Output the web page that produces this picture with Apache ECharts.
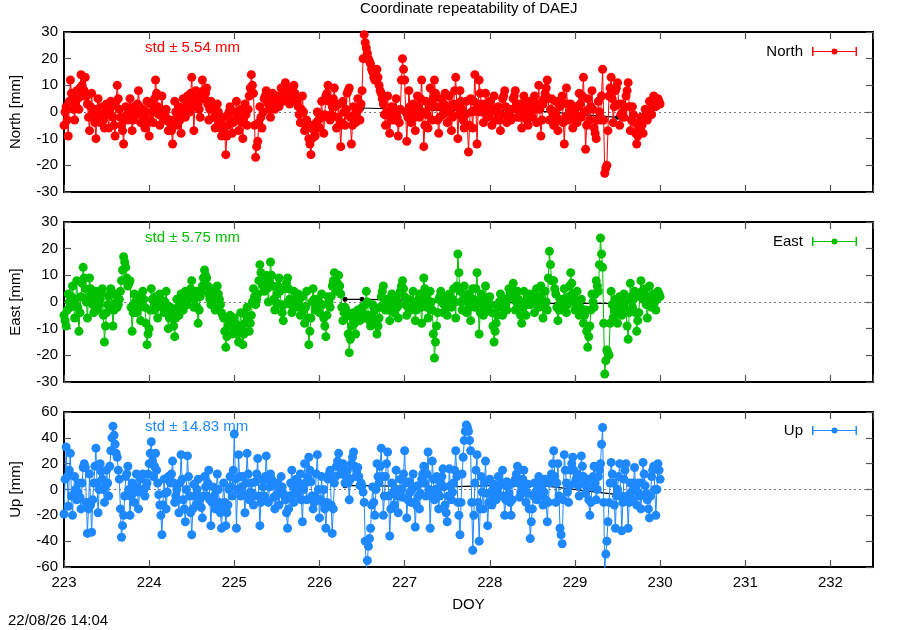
<!DOCTYPE html>
<html><head><meta charset="utf-8">
<script src="https://cdn.jsdelivr.net/npm/echarts@6/dist/echarts.min.js"></script>
<style>html,body{margin:0;padding:0;background:#fff}#c{width:900px;height:630px}</style>
</head><body><div id="c"></div>
<script>
// sampling of the time series (DOY): main samples at startDoy + k*stepDoy,
// half samples in between at startDoy + (k+0.5)*stepDoy
const startDoy = 223.0;
const stepDoy = 0.025;

const north = [
 -5, 2, -9, 12, 4, -3, 8, 1, 14, 6,
 13, 3, -7, 7, -2, -10, 5, -4, 2, -6,
 3, -6, 4, -2, -9, 10, 1, -5, -12, 2,
 -3, 5, -7, 2, -1, 8, -4, 1, -6, 4,
 -9, 3, -4, 12, 2, -5, 6, -3, 1, -7,
 -3, -12, 4, -5, 2, -8, 5, -2, 6, 0,
 13, -7, 8, 3, -2, 12, 5, 9, -3, 4,
 1, -6, 3, -4, -9, -2, -16, -5, 2, -8,
 -3, 4, -7, 1, -10, 3, -5, 6, 14, 7,
 -17, -11, 2, -6, 5, 8, 3, -2, 7, 1,
 6, 2, 9, 4, 11, 7, 3, 8, 10, 5,
 2, -4, 6, -7, -3, -10, -16, -5, -9, 0,
 -6, 4, -8, 6, 10, -3, 2, 9, -6, 3,
 -13, 4, -5, 7, 9, -12, 2, -4, 5, -3,
 8, 29, 24, 20, 18, 15, 12, 16, 10, 7,
 3, -5, 6, -8, 2, -3, 5, -9, 1, 20,
 12, -11, 8, -4, 3, -7, 6, -2, 12, -13,
 4, -6, 9, -3, 12, 2, -8, 5, -1, 7,
 -4, 6, -7, 3, 13, -10, 8, 1, -6, 4,
 -15, 5, -6, 14, -12, 12, 3, -4, 7, -2,
 4, -5, 6, -3, 2, -7, 5, 8, -4, 1,
 -3, 5, 8, -2, 3, -6, 6, 0, -5, 4,
 -2, 6, -4, 10, -9, 3, 7, 12, -3, 5,
 -5, 4, -7, 2, 6, -12, 9, -3, 3, -6,
 2, -4, 7, -2, 13, -14, 5, -3, 8, -6,
 -10, 4, -3, 16, -23, -20, 6, 13, -4, 8,
 11, -5, 3, -2, 6, 11, -7, 2, -4, -12,
 -6, -2, -8, 1, -3, 4, -1, 6, 2, 5,
 3
];
const northHalf = [
 0, -3, 4, 7, 1, 3, 5, 9, 10, 8,
 6, -2, 2, 0, -4, 1, -1, -2, -3, 1,
 -1, 0, 2, -5, 4, 5, -2, -7, -3, -1,
 1, 0, -3, 0, 3, 2, -1, -2, 0, -4,
 -3, 0, 5, 7, -1, 1, 0, -1, -3, -4,
 -7, -4, 0, -2, -3, -1, 1, 2, 3, 7,
 4, 2, 6, 1, 5, 8, 7, 3, 1, 2,
 -2, -1, 0, -6, -5, -8, -9, 0, -3, -4,
 0, -2, -3, -4, -2, -1, 1, 9, 10, -5,
 -13, -4, -2, 0, 6, 5, 1, 3, 4, 4,
 5, 6, 7, 8, 9, 5, 6, 9, 7, 4,
 -1, 1, 0, -5, -6, -12, -10, -7, -4, -3,
 -1, -2, -1, 7, 4, -1, 5, 2, -2, -5,
 -4, 0, 1, 8, -2, -5, -1, 0, 1, 3,
 20, 26, 22, 19, 16, 13, 14, 13, 8, 5,
 -1, 0, -1, -3, -1, 1, -2, -4, 12, 16,
 0, -2, 2, 0, -2, 0, 2, 5, 0, -5,
 -1, 2, 3, 5, 7, -3, -2, 2, 3, 2,
 1, 0, -2, 8, 2, -1, 4, -3, -1, -5,
 -5, 0, 4, 1, 0, 7, 0, 2, 3, 1,
 0, 1, 1, 0, -3, -1, 6, 2, -2, -1,
 1, 6, 3, 1, -2, 0, 3, -3, 0, 1,
 2, 1, 3, 1, -3, 5, 9, 5, 1, 0,
 0, -2, -3, 4, -4, -2, 3, 0, -2, -2,
 -1, 2, 3, 6, 0, -5, 1, 2, 1, -8,
 -3, 0, 6, -3, -21, -7, 9, 5, 2, 9,
 3, -1, 0, 2, 8, 2, -3, -1, -8, -9,
 -4, -5, -3, -1, 0, 1, 3, 4, 3, 4
];

const east = [
 -5, -9, 3, -2, 6, -6, 8, -11, 2, 13,
 5, -6, 9, 2, -4, 4, -3, 1, 5, -15,
 -4, 2, 5, -9, 3, -2, 1, 8, 17, 13,
 6, 8, -11, 3, -4, 2, -7, 4, -2, -16,
 -10, 5, -3, 2, -6, 3, -1, -4, 4, -10,
 -2, -6, -13, 1, -5, 3, -3, 4, -1, 2,
 8, -2, 4, -8, 2, 6, 12, 9, 3, -1,
 5, -3, 6, 1, -4, -6, -17, -9, -5, -12,
 -6, -10, -15, -4, -16, -8, -2, -11, -5, 5,
 -1, 3, 14, 8, 4, 10, 0, 15, 6, -3,
 3, 9, -1, -7, 5, 9, 1, -4, 4, -2,
 3, -5, 2, -8, 4, -16, -6, 5, -3, 1,
 -4, 3, -6, -13, 2, -2, 6, 11, 4, 10,
 3, -7, -2, -5, -19, -9, -4, -12, -3, -7,
 -2, -6, 4, -5, -9, -1, -3, -12, -6, 2,
 6, -3, 1, -7, 3, -4, 2, -6, 4, 8,
 2, -5, 1, -3, 4, -7, 0, 3, -8, 9,
 2, -6, 4, -3, -21, -9, 1, 4, -4, 2,
 -5, 3, -2, 5, -6, 18, 4, -3, 6, -4,
 3, -7, 5, -2, 11, -12, 3, -5, 6, -3,
 2, -4, -15, -8, -2, 3, -5, 1, -3, 5,
 2, 7, -3, 4, -2, -8, 4, -5, 3, -1,
 3, -4, 5, -2, 6, -6, 4, -3, 19, 8,
 8, 3, -7, 1, -3, 5, -4, 2, 11, 3,
 -3, 4, -5, 1, -8, -3, -17, -9, 3, -2,
 8, 4, 24, 13, -27, -18, -20, 4, -6, 1,
 -8, 2, -5, 3, -3, -14, 7, -2, 4, -11,
 -4, 8, 1, 5, -6, 6, -2, 3, -3, 4,
 2
];
const eastHalf = [
 -7, -3, 0, 2, 0, 1, -2, -4, 7, 9,
 0, 2, 5, -1, 0, 0, -1, 3, -5, -9,
 -1, 3, -2, -3, 0, -1, 4, 12, 15, 9,
 7, -2, -4, 0, -1, -2, -1, 1, -8, -12,
 -3, 1, 0, -2, -1, 1, -2, 0, -3, -6,
 -4, -9, -6, -2, -1, 0, 0, 1, 1, 5,
 3, 1, -2, -3, 4, 9, 10, 6, 1, 2,
 1, 2, 3, -1, -5, -11, -13, -7, -8, -9,
 -8, -12, -9, -10, -12, -5, -7, -8, 0, 2,
 1, 8, 11, 6, 7, 5, 8, 10, 1, 0,
 6, 4, -4, -1, 7, 5, -1, 0, 1, 1,
 -1, -2, -3, -2, -6, -11, 0, 1, -1, -2,
 -1, -1, -9, -5, 0, 2, 8, 7, 7, 6,
 -2, -4, -3, -12, -14, -6, -8, -7, -5, -4,
 -4, -1, 0, -7, -5, -2, -7, -9, -2, 4,
 1, -1, -3, -2, 0, -1, -2, -1, 6, 5,
 -1, -2, -1, 0, -1, -3, 1, -2, 0, 5,
 -2, -1, 0, -12, -15, -4, 2, 0, -1, -2,
 -1, 0, 1, 0, 6, 11, 0, 1, 1, 0,
 -2, -1, 1, 5, 0, -4, -1, 0, 1, 0,
 -1, -9, -11, -5, 0, -1, -2, -1, 1, 3,
 5, 2, 0, 1, -5, -2, 0, -1, 1, 1,
 0, 0, 1, 2, 0, -1, 0, 9, 14, 8,
 5, -2, -3, -1, 1, 0, -1, 6, 7, 0,
 0, -1, -2, -3, -5, -11, -13, -3, 0, 3,
 6, 14, 18, -8, -22, -19, -8, -1, -3, -4,
 -3, -1, -1, 0, -9, -4, 2, 1, -4, -7,
 2, 4, 3, -1, 0, 2, 0, 0, 1, 3
];

const up = [
 -19, 33, -13, 28, -20, 10, -8, 5, -15, 17,
 17, -34, 12, -33, 5, 32, -18, 20, 8, -10,
 15, -5, 30, 49, 35, 25, 8, -37, -20, 10,
 18, -20, 5, -10, 12, -15, 8, 12, -5, 5,
 20, 37, 10, 28, 5, -12, -35, 8, -15, 10,
 5, 22, -10, 0, -18, 27, -8, -25, 26, -5,
 -35, 4, -12, 8, -6, -22, 10, -5, 15, -28,
 2, -15, 12, -10, -30, 5, -28, -12, 10, -5,
 43, -30, 27, -5, 10, -18, 28, -8, 5, -12,
 6, 24, -28, 8, -5, 26, -10, 12, 3, -15,
 5, -12, 10, -3, -8, -30, -5, 15, -10, 8,
 -4, 12, -25, 20, -8, 25, 6, -15, -5, 27,
 -22, 10, 0, -30, 8, 15, -34, 5, 18, 28,
 12, 20, 5, 15, -8, 20, 29, 10, 17, 3,
 3, -10, -62, -44, -30, 2, -20, 20, 5, 32,
 -20, 10, 29, -36, 5, -12, 15, -18, 8, -6,
 30, -22, 6, -10, 12, -29, 3, -15, 8, 18,
 -5, 29, -30, 22, -8, 10, -15, 5, 16, -12,
 -25, 16, -8, 5, 30, -10, -35, 12, 38, 50,
 45, 30, -47, 5, 27, -40, 10, -15, 22, -28,
 8, -12, 4, -8, 10, -5, 15, -20, 6, -3,
 -20, 5, 8, 18, -6, 2, 15, -10, 4, -38,
 -15, 5, -8, 10, 3, -12, 8, -25, 5, 12,
 30, -10, 20, -30, -42, 27, 5, -10, 15, 25,
 5, 12, -5, 26, 10, -3, 8, -20, 2, 18,
 -8, 10, 20, 48, -62, -40, -10, 21, 5, -30,
 0, 20, -32, 8, 20, -30, 5, -8, 17, -12,
 5, -15, 21, 3, -8, -22, 10, 18, -20, 20,
 8
];
const upHalf = [
 8, 10, 15, -5, -4, 0, -2, -6, 5, 20,
 -10, -15, -12, -8, 18, 5, 0, 14, 0, 3,
 5, 18, 40, 42, 28, 15, -15, -28, -5, 12,
 0, -5, -3, 0, 2, -2, 10, 0, 2, 12,
 28, 22, 18, 15, -4, -20, -12, -3, -2, 8,
 12, 5, -5, -8, 5, 8, -15, 0, 10, -18,
 -15, -5, 0, -8, -14, -5, 2, 5, -8, -10,
 -5, 0, 0, -18, -12, -10, -18, 0, 2, 15,
 8, 0, 10, 2, -4, 5, 12, -2, -3, -5,
 12, -5, -10, 2, 10, 8, 2, 8, -6, -5,
 -3, 0, 2, -5, -18, -15, 5, 3, -2, 0,
 5, -8, 0, 5, 10, 15, -5, -10, 12, 0,
 -8, -10, -15, -10, 12, -12, -15, 10, 22, 18,
 15, 12, 10, 5, 8, 25, 18, 14, 10, 5,
 -2, -40, -55, -38, -12, -10, 0, 10, 18, 10,
 -5, 20, -5, -15, -3, 0, -5, -2, 0, 12,
 5, -8, -2, 0, -10, -12, -5, -3, 12, 5,
 12, 0, -5, 8, 0, -2, -5, 10, 2, -18,
 -5, 3, -2, 15, 10, -20, -10, 25, 45, 48,
 38, -10, -20, 15, -10, -15, -2, 5, -3, -10,
 -2, -5, -2, 0, 3, 5, -5, -8, 2, -10,
 -8, 6, 12, 5, -2, 8, 2, -3, -15, -25,
 -5, -2, 0, 5, -5, -2, -8, -10, 8, 20,
 10, 5, -5, -35, -8, 15, -2, 3, 20, 15,
 8, 3, 10, 18, 5, 2, -8, -10, 10, 5,
 0, 15, 35, -10, -50, -25, 5, 12, -12, -5,
 10, -5, -10, 15, -5, -10, -2, 5, 2, -2,
 -5, 5, 12, -3, -15, -5, 15, 0, 0, 15
];

// daily (black) points
const dailyDoy = [226.3, 226.5, 227.5, 228.5, 229.5];
const northDaily = [1.5, 1.5, 0.5, 0.5, -2];
const eastDaily = [1, 1, 0.5, -0.5, -0.5];
const upDaily = [3, 3, 2, 4, -4];

const seriesNames = ['North', 'East', 'Up'];
const axisNames = ['North [mm]', 'East [mm]', 'Up [mm]'];
const stdTexts = ['std \u00b1 5.54 mm', 'std \u00b1 5.75 mm', 'std \u00b1 14.83 mm'];
const yMins = [-30, -30, -60];
const yMaxs = [30, 30, 60];
const yIntervals = [10, 10, 20];
const xMin = 223, xMax = 232.5, xInterval = 1;
const titleText = 'Coordinate repeatability of DAEJ';
const xName = 'DOY';
const stampText = '22/08/26 14:04';

const colors = ['#ff0000', '#00c000', '#1e88ff'];
const FONT = '"Liberation Sans", Arial, sans-serif';
const grids = [
  {left: 64, right: 27, top: 32, height: 160},
  {left: 64, right: 27, top: 222, height: 160},
  {left: 64, right: 27, top: 412, height: 155}
];
const mains = [north, east, up];
const halves = [northHalf, eastHalf, upHalf];
const dailies = [northDaily, eastDaily, upDaily];

const legendIcon = 'path://M0,4H45V5H0Z M0,0H1.5V9H0Z M43.5,0H45V9H43.5Z M19.5,4.5a3,3 0 1,1 6,0a3,3 0 1,1 -6,0Z';

function buildSeries(main, half) {
  const out = [];
  main.forEach((v, k) => {
    out.push([+(startDoy + k * stepDoy).toFixed(4), v]);
    if (k < half.length) out.push([+(startDoy + (k + 0.5) * stepDoy).toFixed(4), half[k]]);
  });
  return out;
}

const chart = echarts.init(document.getElementById('c'), null, {renderer: 'canvas'});

const xAxes = [], yAxes = [], series = [], legends = [], graphics = [];
grids.forEach((g, i) => {
  g.outerBoundsMode = 'none';
  const isLast = i === grids.length - 1;
  xAxes.push({
    type: 'value', gridIndex: i, min: xMin, max: xMax, interval: xInterval, position: 'bottom',
    axisLine: {show: true, onZero: false, lineStyle: {color: '#000', width: 2}},
    axisTick: {show: true, inside: true, length: 7, lineStyle: {color: '#555', width: 1.2}},
    axisLabel: {show: isLast, color: '#000', fontSize: 15, fontFamily: FONT, margin: 8, showMaxLabel: false},
    splitLine: {show: false},
    name: isLast ? xName : '', nameLocation: 'middle', nameGap: 30,
    nameTextStyle: {color: '#000', fontSize: 15, fontFamily: FONT}
  });
  xAxes.push({
    type: 'value', gridIndex: i, min: xMin, max: xMax, interval: xInterval, position: 'top',
    axisLine: {show: true, onZero: false, lineStyle: {color: '#000', width: 2}},
    axisTick: {show: true, inside: true, length: 7, lineStyle: {color: '#555', width: 1.2}},
    axisLabel: {show: false}, splitLine: {show: false}
  });
  yAxes.push({
    type: 'value', gridIndex: i, min: yMins[i], max: yMaxs[i], interval: yIntervals[i], position: 'left',
    axisLine: {show: true, onZero: false, lineStyle: {color: '#000', width: 2}},
    axisTick: {show: true, inside: true, length: 7, lineStyle: {color: '#555', width: 1.2}},
    axisLabel: {color: '#000', fontSize: 15, fontFamily: FONT, margin: 6},
    splitLine: {show: false},
    name: axisNames[i], nameLocation: 'middle', nameGap: 41,
    nameTextStyle: {color: '#000', fontSize: 15, fontFamily: FONT}
  });
  yAxes.push({
    type: 'value', gridIndex: i, min: yMins[i], max: yMaxs[i], interval: yIntervals[i], position: 'right',
    axisLine: {show: true, onZero: false, lineStyle: {color: '#000', width: 2}},
    axisTick: {show: true, inside: true, length: 7, lineStyle: {color: '#555', width: 1.2}},
    axisLabel: {show: false}, splitLine: {show: false}
  });
  series.push({
    name: seriesNames[i] + ' daily', type: 'line', xAxisIndex: 2 * i, yAxisIndex: 2 * i,
    data: dailyDoy.map((d, k) => [d, dailies[i][k]]),
    symbol: 'circle', symbolSize: 5, color: '#000',
    lineStyle: {width: 1.2, color: '#000'}, itemStyle: {color: '#000'}, z: 2, silent: true,
    markLine: {
      silent: true, symbol: 'none', z: 1, animation: false,
      label: {show: false},
      lineStyle: {type: [2, 3], color: '#777', width: 1},
      data: [{yAxis: 0}]
    }
  });
  series.push({
    name: seriesNames[i], type: 'line', xAxisIndex: 2 * i, yAxisIndex: 2 * i,
    data: buildSeries(mains[i], halves[i]), symbol: 'circle', symbolSize: 9,
    showSymbol: true, showAllSymbol: true, sampling: null,
    color: colors[i], lineStyle: {width: 1, color: colors[i]},
    itemStyle: {color: colors[i], borderWidth: 0},
    clip: true, silent: true, z: 3
  });
  const legendTops = [39, 229, 418];
  legends.push({
    data: [{name: seriesNames[i], icon: legendIcon}],
    right: 38, top: legendTops[i], orient: 'horizontal', align: 'right',
    itemWidth: 45, itemHeight: 9, selectedMode: false,
    textStyle: {color: '#000', fontSize: 15, fontFamily: FONT, padding: [0, 4, 0, 0]}
  });
  const stdTops = [40, 230, 419];
  graphics.push({
    type: 'text', left: 145, top: stdTops[i],
    style: {text: stdTexts[i], fill: colors[i], font: '15px ' + FONT}
  });
});

graphics.push({
  type: 'text', left: 8, top: 613,
  style: {text: stampText, fill: '#000', font: '15px ' + FONT}
});

chart.setOption({
  animation: false,
  backgroundColor: '#fff',
  title: {text: titleText, left: 360, top: 1, padding: 0,
    textStyle: {color: '#000', fontSize: 15, fontWeight: 'normal', fontFamily: FONT}},
  grid: grids,
  xAxis: xAxes,
  yAxis: yAxes,
  legend: legends,
  graphic: graphics,
  series: series
});
</script>
</body></html>
